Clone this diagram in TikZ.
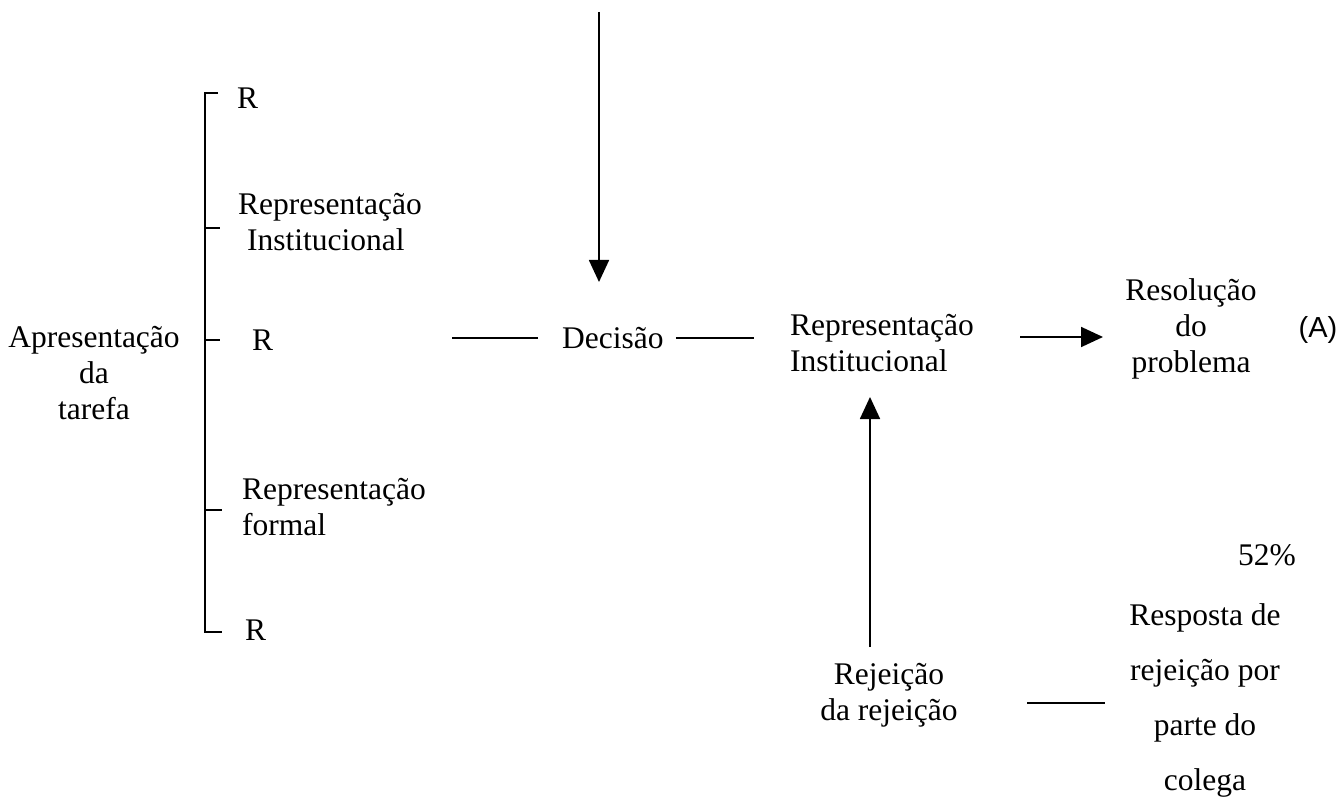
\documentclass[tikz,border=0pt]{standalone}
\usepackage{fontspec}
\setmainfont{Liberation Serif}
\newfontfamily\arialfont{Liberation Sans}
\usetikzlibrary{arrows.meta}
\begin{document}
\begin{tikzpicture}[x=1pt,y=-1pt,
  txt/.style={inner sep=0pt, font=\fontsize{31.5}{36}\selectfont, align=center},
  ln/.style={line width=1.8pt},
  arr/.style={line width=1.8pt, -{Triangle[width=20pt,length=22pt]}}]
\path[use as bounding box] (0,0) rectangle (1342,802);

% left bracket texts
\node[txt,anchor=west] (rtop) at (237,98) {R};
\node[txt,anchor=west,align=left] (rinstA) at (238,222) {Representação\\\hspace*{9pt}Institucional};
\node[txt,anchor=west] (rmid) at (252,340) {R};
\node[txt,anchor=west,align=left] (rform) at (242,507) {Representação\\formal};
\node[txt,anchor=west] (rbot) at (245,630) {R};
\node[txt] (apres) at (94,373) {Apresentação\\da\\tarefa};

% bracket
\draw[ln] (218,93) -- (205,93) -- (205,632) -- (222,632);
\draw[ln] (205,228) -- (220,228);
\draw[ln] (205,340) -- (220,340);
\draw[ln] (205,510) -- (222,510);

% main row
\node[txt,anchor=west] (dec) at (562,338) {Decisão};
\draw[ln] ([xshift=-24pt]dec.west) -- ++(-86,0);
\draw[ln] ([xshift=12pt]dec.east) -- ++(78,0);

\coordinate (t0) at (599,12);
\coordinate (t1) at (599,282);
\draw[arr] (t0) -- (t1);

\node[txt,anchor=west,align=left] (rinst) at (790,343) {Representação\\Institucional};

\node[txt] (resol) at (1191,329) {Resolução\\do\\problema};
\node[inner sep=0pt, font=\arialfont\fontsize{29}{34}\selectfont] (A) at (1318,330) {(A)};
\coordinate (ra0) at (1020,337);
\coordinate (ra1) at (1103,337);
\draw[arr] (ra0) -- (ra1);

\node[txt] (pct) at (1267,555) {52\%};

% bottom
\node[txt] (rej) at (889,695) {Rejeição\\da rejeição};
\coordinate (u0) at (870,647);
\coordinate (u1) at (870,397);
\draw[arr] (u0) -- (u1);

\coordinate (l0) at (1027,703);
\coordinate (l1) at (1105,703);
\draw[ln] (l0) -- (l1);

\node[txt, font=\fontsize{31.5}{55}\selectfont] (resp) at (1205,700) {Resposta de\\rejeição por\\parte do\\colega};
\end{tikzpicture}
\end{document}
